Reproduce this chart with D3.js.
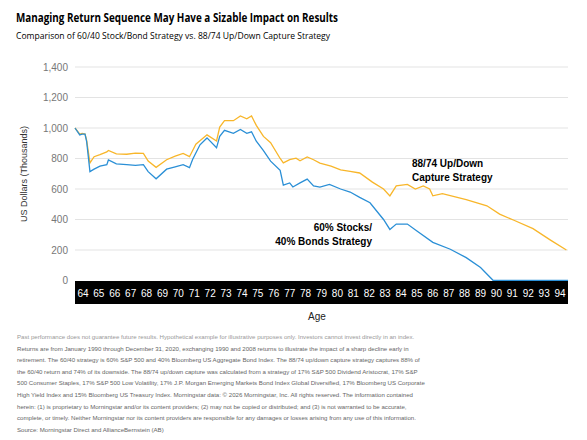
<!DOCTYPE html>
<html><head><meta charset="utf-8">
<script src="https://cdn.jsdelivr.net/npm/d3@7"></script>
<style>body{margin:0;background:#fff;font-family:"Liberation Sans",Arial,sans-serif}</style>
</head><body><div id="chart"></div>
<script>
// years since age 64 start, and portfolio value ($ thousands)
const blueT = [0,0.3,0.45,0.63,0.73,0.94,1.2,1.57,2,2.1,2.6,3.25,3.8,4.3,4.6,5.1,5.76,6.3,6.8,7.2,7.4,7.86,8.3,8.9,9.1,9.4,9.96,10.4,10.8,11.1,11.4,11.85,12.3,12.9,13.1,13.5,13.7,14.15,14.6,15,15.4,16,16.7,17.3,17.9,18.55,19.4,19.8,20.2,20.9,21.5,22.5,23.6,24.6,25.5,26.3,27,28,29,30,31];
const blueV = [1000,955,960,960,913,714,730,750,760,790,765,760,755,760,714,667,730,745,760,740,795,890,935,870,945,985,965,990,965,975,913,852,783,722,626,640,613,640,665,620,613,630,600,580,545,510,400,335,370,370,325,250,205,150,85,0,0,0,0,0,0];
const orangeT = [0,0.3,0.45,0.63,0.73,0.94,1.2,1.57,2,2.1,2.6,3.25,3.8,4.3,4.6,5.1,5.76,6.3,6.8,7.2,7.6,8.3,8.9,9.1,9.4,9.96,10.4,10.8,11.1,11.4,11.85,12.3,12.9,13.1,13.5,13.9,14.15,14.6,15,15.4,16.1,16.7,17.3,17.9,18.7,19.4,19.8,20.2,20.9,21.4,21.9,22.3,22.5,23.1,24.6,25.9,26.7,27.6,28.8,29.9,30.9];
const orangeV = [1000,960,965,960,920,771,812,825,843,853,830,828,835,833,783,742,792,815,833,812,894,955,915,1006,1048,1048,1079,1060,1079,1017,945,904,800,771,792,802,785,810,792,770,750,725,715,705,645,600,555,620,630,600,620,600,555,570,530,490,435,395,340,265,200];
const ageLabels = d3.range(64, 95);
const yTicks = [0,200,400,600,800,1000,1200,1400];
const footnote = [
 "Past performance does not guarantee future results. Hypothetical example for illustrative purposes only. Investors cannot invest directly in an index.",
 "Returns are from January 1990 through December 31, 2020, exchanging 1990 and 2008 returns to illustrate the impact of a sharp decline early in",
 "retirement. The 60/40 strategy is 60% S&P 500 and 40% Bloomberg US Aggregate Bond Index. The 88/74 up/down capture strategy captures 88% of",
 "the 60/40 return and 74% of its downside. The 88/74 up/down capture was calculated from a strategy of 17% S&P 500 Dividend Aristocrat, 17% S&P",
 "500 Consumer Staples, 17% S&P 500 Low Volatility, 17% J.P. Morgan Emerging Markets Bond Index Global Diversified, 17% Bloomberg US Corporate",
 "High Yield Index and 15% Bloomberg US Treasury Index. Morningstar data: © 2026 Morningstar, Inc. All rights reserved. The information contained",
 "herein: (1) is proprietary to Morningstar and/or its content providers; (2) may not be copied or distributed; and (3) is not warranted to be accurate,",
 "complete, or timely. Neither Morningstar nor its content providers are responsible for any damages or losses arising from any use of this information.",
 "Source: Morningstar Direct and AllianceBernstein (AB)"
];

const W = 587, H = 440;
const svg = d3.select("#chart").append("svg").attr("width", W).attr("height", H);
const x = d3.scaleLinear().domain([0, 31]).range([75, 568]);
const y = d3.scaleLinear().domain([0, 1400]).range([280.5, 67]);

svg.append("text").attr("x", 16).attr("y", 22).attr("font-size", 11.5).attr("font-weight", "bold")
    .attr("font-family", "'Open Sans',sans-serif").attr("textLength", 322).attr("lengthAdjust", "spacingAndGlyphs")
    .text("Managing Return Sequence May Have a Sizable Impact on Results");
svg.append("text").attr("x", 16).attr("y", 39).attr("font-size", 8.5)
    .attr("font-family", "'Open Sans',sans-serif").attr("textLength", 314).attr("lengthAdjust", "spacingAndGlyphs")
    .text("Comparison of 60/40 Stock/Bond Strategy vs. 88/74 Up/Down Capture Strategy");

svg.append("g").selectAll("line").data(yTicks.slice(1)).join("line")
    .attr("x1", 75).attr("x2", 568).attr("y1", d => y(d)).attr("y2", d => y(d))
    .attr("stroke", "#e3e3e3").attr("stroke-width", 1);
svg.append("g").selectAll("text").data(yTicks).join("text")
    .attr("x", 68).attr("y", d => y(d) + 3.5).attr("text-anchor", "end")
    .attr("font-size", 10).attr("fill", "#777").text(d3.format(","));
svg.append("text").attr("transform", "translate(27,174) rotate(-90)").attr("text-anchor", "middle")
    .attr("font-size", 9).attr("fill", "#333").text("US Dollars (Thousands)");

const line = d3.line().x(d => x(d[0])).y(d => y(d[1]));
svg.append("path").datum(d3.zip(orangeT, orangeV)).attr("d", line)
    .attr("fill", "none").attr("stroke", "#f8b62a").attr("stroke-width", 1.3);
svg.append("path").datum(d3.zip(blueT, blueV)).attr("d", line)
    .attr("fill", "none").attr("stroke", "#2a8fd6").attr("stroke-width", 1.3);

// age band
svg.append("rect").attr("x", 75).attr("y", 281).attr("width", 493).attr("height", 23).attr("fill", "#000");
svg.append("g").selectAll("text").data(ageLabels).join("text")
    .attr("x", (d, i) => x(i + 0.5)).attr("y", 297).attr("text-anchor", "middle")
    .attr("font-size", 10).attr("fill", "#fff").text(d => d);
svg.append("text").attr("x", 317).attr("y", 320).attr("text-anchor", "middle").attr("font-size", 10).attr("fill", "#222").text("Age");

const lbl = (tx, ty, lines, anchor) => svg.append("text").attr("font-size", 10).attr("font-weight", "bold")
    .attr("text-anchor", anchor).selectAll("tspan").data(lines).join("tspan")
    .attr("x", tx).attr("y", (d, i) => ty + i * 14).text(d => d);
lbl(412, 167, ["88/74 Up/Down", "Capture Strategy"], "start");
lbl(372, 231, ["60% Stocks/", "40% Bonds Strategy"], "end");

svg.append("g").selectAll("text").data(footnote).join("text")
    .attr("x", 17).attr("y", (d, i) => 339 + i * 11.6).attr("font-size", 6.1)
    .attr("fill", (d, i) => i === 0 ? "#999" : "#666").text(d => d);
</script></body></html>
